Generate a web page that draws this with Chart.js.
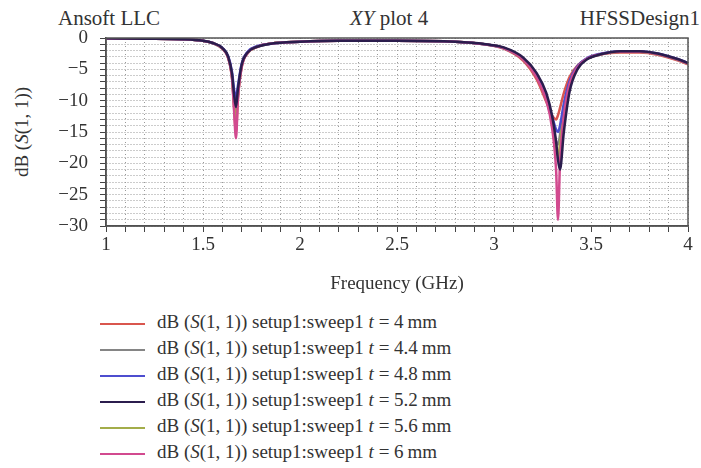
<!DOCTYPE html>
<html lang="en">
<head>
<meta charset="UTF-8">
<title>XY plot 4</title>
<script src="https://cdn.jsdelivr.net/npm/chart.js"></script>
<style>
  body { margin: 0; background: #fff; }
  #wrap { position: relative; width: 701px; height: 468px; font-family: "Liberation Serif", serif; color: #333; }
  #grafico { position: absolute; left: 0; top: 0; width: 701px; height: 300px; }
  .hdr { position: absolute; top: 6px; font-size: 21px; }
  #ytitle { position: absolute; left: 22px; top: 132px; font-size: 19px; white-space: nowrap;
            transform: translate(-50%, -50%) rotate(-90deg); }
  #legenda { position: absolute; left: 100px; top: 309px; font-size: 19px; }
  .item { height: 26px; line-height: 26px; white-space: nowrap; }
  .amostra { display: inline-block; width: 45px; height: 2px; vertical-align: middle; margin-right: 12px; }
</style>
</head>
<body>
<div id="wrap">
  <div class="hdr" style="left:58px">Ansoft LLC</div>
  <div class="hdr" style="left:350px"><i>XY</i> plot 4</div>
  <div class="hdr" style="right:1px">HFSSDesign1</div>
  <div id="ytitle">dB (<i>S</i>(1, 1))</div>
  <canvas id="grafico" width="701" height="300"></canvas>
  <div id="legenda"></div>
</div>
<script>
// frequencia (GHz)
const freq = [1.0, 1.2, 1.4, 1.5, 1.55, 1.6, 1.63, 1.65, 1.66, 1.67, 1.68, 1.7, 1.73, 1.78, 1.85, 2.0, 2.2, 2.5, 2.8, 2.95,
              3.05, 3.15, 3.22, 3.27, 3.3, 3.32, 3.33, 3.34, 3.36, 3.39, 3.43, 3.48, 3.55, 3.65, 3.75, 3.85, 3.95, 4.0];

// dB(S(1,1)) para cada espessura t
const t40 = [-0.05, -0.1, -0.2, -0.45, -0.8, -1.7, -3.2, -6.5, -11, -15, -9.5, -4.5, -2.4, -1.4, -0.9, -0.6, -0.45, -0.45, -0.6, -1.0,
             -1.7, -3.6, -6.6, -10.2, -12.4, -13, -12.3, -11.2, -8.8, -6.2, -4.4, -3.3, -2.6, -2.3, -2.3, -2.7, -3.6, -4.2];
const t44 = [-0.05, -0.1, -0.2, -0.45, -0.8, -1.7, -3.1, -6.2, -10, -12.5, -8.8, -4.3, -2.3, -1.4, -0.9, -0.6, -0.45, -0.45, -0.6, -1.0,
             -1.6, -3.4, -6.2, -9.8, -13.5, -16.5, -17, -15.5, -11, -7, -4.6, -3.3, -2.6, -2.2, -2.2, -2.6, -3.5, -4.1];
const t48 = [-0.05, -0.1, -0.2, -0.45, -0.8, -1.6, -2.9, -5.5, -8.2, -9.5, -7.6, -4.0, -2.2, -1.3, -0.9, -0.6, -0.45, -0.45, -0.6, -1.0,
             -1.6, -3.3, -6.0, -9.5, -12.6, -14.6, -15, -14, -10.5, -6.8, -4.5, -3.2, -2.5, -2.1, -2.1, -2.5, -3.4, -4.0];
const t52 = [-0.05, -0.1, -0.2, -0.45, -0.8, -1.6, -3.0, -5.8, -9, -11, -8.2, -4.2, -2.3, -1.4, -0.9, -0.6, -0.45, -0.45, -0.6, -0.95,
             -1.5, -3.1, -5.6, -8.8, -12.5, -16.5, -19.5, -21, -15, -8.5, -5.0, -3.4, -2.6, -2.1, -2.1, -2.5, -3.4, -4.0];
const t56 = [-0.05, -0.1, -0.2, -0.45, -0.8, -1.7, -3.1, -6.3, -10.5, -13.5, -9.2, -4.4, -2.4, -1.4, -0.9, -0.6, -0.45, -0.45, -0.6, -1.0,
             -1.6, -3.3, -6.0, -9.6, -13.5, -17.5, -19, -17, -12, -7.3, -4.7, -3.3, -2.6, -2.2, -2.2, -2.6, -3.5, -4.1];
const t60 = [-0.05, -0.1, -0.2, -0.45, -0.8, -1.7, -3.2, -6.6, -11.5, -16, -9.8, -4.6, -2.4, -1.4, -0.9, -0.6, -0.45, -0.45, -0.6, -1.0,
             -1.6, -3.4, -6.3, -10, -14.5, -21, -29, -20, -12.5, -7.3, -4.7, -3.3, -2.6, -2.2, -2.2, -2.6, -3.5, -4.1];

const espessuras = ['4', '4.4', '4.8', '5.2', '5.6', '6'];
const series = [t40, t44, t48, t52, t56, t60];
const cores = ['#d9564e', '#858585', '#4d4dcf', '#2b1d4d', '#a3ad4a', '#d24a8f'];
// ordem de desenho (menor fica por cima)
const ordem = [5, 4, 2, 0, 3, 1];

const eixoX = [1, 4];
const eixoY = [-30, 0];

// legenda em html (S e t em italico)
const legenda = document.getElementById('legenda');
espessuras.forEach((t, i) => {
  legenda.innerHTML += `<div class="item"><span class="amostra" style="background:${cores[i]}"></span>` +
    `dB (<i>S</i>(1, 1)) setup1:sweep1 <i>t</i> = ${t}\u2009mm</div>`;
});

// moldura em volta da area do grafico
const moldura = {
  id: 'moldura',
  afterDraw(chart) {
    const a = chart.chartArea, c = chart.ctx;
    c.save();
    c.strokeStyle = '#555';
    c.lineWidth = 1.5;
    c.strokeRect(a.left, a.top, a.right - a.left, a.bottom - a.top);
    c.restore();
  }
};

const fonte = { family: '"Liberation Serif", serif', size: 19 };

new Chart(document.getElementById('grafico'), {
  type: 'line',
  data: {
    datasets: series.map((s, i) => ({
      label: 't = ' + espessuras[i] + ' mm',
      data: s.map((v, k) => ({ x: freq[k], y: v })),
      borderColor: cores[i],
      borderWidth: 2.5,
      pointRadius: 0,
      order: ordem[i],
      cubicInterpolationMode: 'monotone',
      fill: false
    }))
  },
  options: {
    responsive: false,
    animation: false,
    layout: { padding: { top: 38, right: 13, left: 0, bottom: 5 } },
    plugins: { legend: { display: false }, tooltip: { enabled: false } },
    scales: {
      x: {
        type: 'linear',
        min: eixoX[0], max: eixoX[1],
        afterFit(s) { s.height = 69; },
        border: { color: '#444', width: 1.5, dash: [1, 3] },
        grid: { color: '#999', lineWidth: 1, tickColor: '#444', tickLength: 6 },
        ticks: {
          stepSize: 0.1, autoSkip: false, maxRotation: 0, color: '#333', font: fonte, padding: 2,
          callback: v => (Math.round(v * 10) % 5 === 0 ? String(parseFloat(v.toFixed(1))) : '')
        },
        title: { display: true, text: 'Frequency (GHz)', color: '#333', font: fonte, padding: { top: 4, bottom: 0 } }
      },
      y: {
        min: eixoY[0], max: eixoY[1],
        afterFit(s) { s.width = 106; },
        border: { color: '#444', width: 1.5, dash: [1, 2] },
        grid: { color: '#999', lineWidth: 1, tickColor: '#444', tickLength: 6 },
        ticks: {
          stepSize: 1, autoSkip: false, color: '#333', font: fonte, padding: 12,
          callback: v => (v % 5 === 0 ? (v < 0 ? '\u2212' + Math.abs(v) : String(v)) : '')
        }
      }
    }
  },
  plugins: [moldura]
});
</script>
</body>
</html>
